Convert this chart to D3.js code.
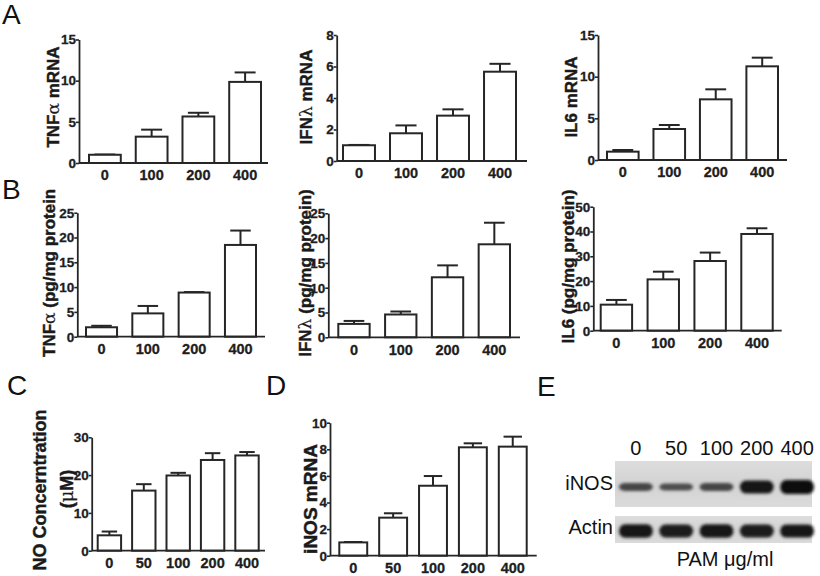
<!DOCTYPE html>
<html><head><meta charset="utf-8">
<script src="https://cdn.jsdelivr.net/npm/d3@7"></script>
<style>
body{margin:0;background:#fff}
svg{display:block}
text{font-family:"Liberation Sans",Arial,Helvetica,sans-serif}
</style>
</head><body>
<svg id="chart" width="820" height="576"></svg>
<script>
// ---------------- data ----------------
const dosesAB = ["0","100","200","400"];
const dosesCD = ["0","50","100","200","400"];

const tnfMrna = [1.0, 3.2, 5.65, 9.85];
const tnfMrnaSem = [0.03, 0.85, 0.45, 1.15];
const ifnMrna = [1.0, 1.76, 2.88, 5.67];
const ifnMrnaSem = [0.02, 0.5, 0.4, 0.5];
const il6Mrna = [1.0, 3.72, 7.28, 11.24];
const il6MrnaSem = [0.2, 0.48, 1.2, 1.04];

const tnfProt = [1.9, 4.7, 8.9, 18.5];
const tnfProtSem = [0.3, 1.5, 0.1, 2.9];
const ifnProt = [2.7, 4.6, 12.1, 18.75];
const ifnProtSem = [0.6, 0.6, 2.4, 4.35];
const il6Prot = [10.5, 20.7, 28.1, 39.0];
const il6ProtSem = [1.9, 3.1, 3.4, 2.3];

const noConc = [4.07, 15.9, 19.9, 24.0, 25.2];
const noConcSem = [1.0, 1.7, 0.7, 1.8, 0.9];
const inosMrna = [1.0, 2.86, 5.26, 8.15, 8.2];
const inosMrnaSem = [0.03, 0.33, 0.73, 0.3, 0.75];

const ticksA1 = [0,5,10,15];
const ticksA2 = [0,2,4,6,8];
const ticksA3 = [0,5,10,15];
const ticksB12 = [0,5,10,15,20,25];
const ticksB3 = [0,10,20,30,40,50];
const ticksC = [0,10,20,30];
const ticksD = [0,2,4,6,8,10];

// western blot (relative band intensity)
const blotLanes = ["0","50","100","200","400"];
const inosBand = [0.56, 0.5, 0.57, 0.93, 1.0];
const actinBand = [0.95, 0.92, 0.95, 0.92, 0.94];

// ---------------- drawing ----------------
const svg = d3.select("#chart");
const INK = "#262626";
const FONT = '"Liberation Sans",Arial,sans-serif';

function heavy(sel, w) {
  sel.attr("stroke", "#1e1e1e").attr("stroke-width", w).attr("paint-order", "stroke");
}

function barPanel(p) {
  const g = svg.append("g");
  const x = d3.scaleBand().domain(p.cats).range([p.b0, p.b1]).paddingInner(p.pi).paddingOuter(0);
  const y = d3.scaleLinear().domain([0, p.max]).range([p.yb, p.yt]);

  // y axis
  const ya = g.append("g").attr("transform", `translate(${p.ax},0)`)
    .call(d3.axisLeft(y).tickValues(p.ticks).tickSize(3).tickSizeOuter(0).tickPadding(0));
  ya.select(".domain").attr("stroke", INK).attr("stroke-width", 1.8);
  ya.selectAll(".tick line").attr("stroke", INK).attr("stroke-width", 1.6);
  ya.selectAll(".tick text").attr("font-size", 13.5).attr("font-weight", "bold")
    .attr("fill", "#1e1e1e").attr("font-family", FONT).call(heavy, 0.3);

  // x axis (labels only, line drawn across full width)
  const xa = g.append("g").attr("transform", `translate(0,${p.yb})`)
    .call(d3.axisBottom(x).tickSize(0).tickPadding(7));
  xa.select(".domain").remove();
  xa.selectAll(".tick text").attr("font-size", 14.5).attr("font-weight", "bold")
    .attr("fill", "#1e1e1e").attr("font-family", FONT).call(heavy, 0.3);

  // bars
  const data = p.cats.map((c, i) => ({c, v: p.vals[i], e: p.sem[i]}));
  const bw = x.bandwidth();
  const cap = bw * 0.66;
  const eb = g.append("g").selectAll("g").data(data).join("g");
  eb.append("line")
    .attr("x1", d => x(d.c) + bw / 2).attr("x2", d => x(d.c) + bw / 2)
    .attr("y1", d => y(d.v)).attr("y2", d => y(d.v + d.e))
    .attr("stroke", INK).attr("stroke-width", 2);
  eb.append("line")
    .attr("x1", d => x(d.c) + bw / 2 - cap / 2).attr("x2", d => x(d.c) + bw / 2 + cap / 2)
    .attr("y1", d => y(d.v + d.e)).attr("y2", d => y(d.v + d.e))
    .attr("stroke", INK).attr("stroke-width", 2);
  g.append("g").selectAll("rect").data(data).join("rect")
    .attr("x", d => x(d.c)).attr("width", bw)
    .attr("y", d => y(d.v)).attr("height", d => y(0) - y(d.v))
    .attr("fill", "#fff").attr("stroke", INK).attr("stroke-width", 2);

  // x axis line
  g.append("line").attr("x1", p.ax).attr("x2", p.axEnd).attr("y1", p.yb).attr("y2", p.yb)
    .attr("stroke", INK).attr("stroke-width", 1.8);

  // axis title(s)
  p.titles.forEach(t => {
    const tx = g.append("text")
      .attr("transform", `translate(${t.x},${t.y}) rotate(-90)`)
      .attr("text-anchor", t.anchor || "middle")
      .attr("font-size", t.size || 17).attr("font-weight", "bold").attr("fill", "#1a1a1a")
      .call(heavy, 0.45);
    t.parts.forEach(pt => {
      const s = tx.append("tspan").text(pt.t);
      if (pt.greek) s.attr("font-family", '"DejaVu Serif",serif').attr("font-weight", "normal").attr("stroke-width", 0.2);
    });
  });
}

barPanel({cats: dosesAB, vals: tnfMrna, sem: tnfMrnaSem, ticks: ticksA1, max: 15,
  ax: 79, axEnd: 268, b0: 89, b1: 261, pi: 0.32, yt: 39.5, yb: 163,
  titles: [{x: 59, y: 97, parts: [{t: "TNF"}, {t: "α", greek: true}, {t: " mRNA"}]}]});
barPanel({cats: dosesAB, vals: ifnMrna, sem: ifnMrnaSem, ticks: ticksA2, max: 8,
  ax: 336.7, axEnd: 527, b0: 343, b1: 516, pi: 0.32, yt: 35, yb: 161,
  titles: [{x: 312, y: 97, parts: [{t: "IFN"}, {t: "λ", greek: true}, {t: " mRNA"}]}]});
barPanel({cats: dosesAB, vals: il6Mrna, sem: il6MrnaSem, ticks: ticksA3, max: 15,
  ax: 598, axEnd: 787, b0: 607, b1: 778, pi: 0.32, yt: 35, yb: 160,
  titles: [{x: 577, y: 97, parts: [{t: "IL6 mRNA"}]}]});

barPanel({cats: dosesAB, vals: tnfProt, sem: tnfProtSem, ticks: ticksB12, max: 25,
  ax: 77.3, axEnd: 265, b0: 86, b1: 256, pi: 0.33, yt: 212.7, yb: 336.7,
  titles: [{x: 55, y: 357, anchor: "start", parts: [{t: "TNF"}, {t: "α", greek: true}, {t: " (pg/mg protein"}]}]});
barPanel({cats: dosesAB, vals: ifnProt, sem: ifnProtSem, ticks: ticksB12, max: 25,
  ax: 328.3, axEnd: 520, b0: 338.3, b1: 510, pi: 0.33, yt: 213.3, yb: 337.3,
  titles: [{x: 311, y: 273, parts: [{t: "IFN"}, {t: "λ", greek: true}, {t: " (pg/mg protein)"}]}]});
barPanel({cats: dosesAB, vals: il6Prot, sem: il6ProtSem, ticks: ticksB3, max: 50,
  ax: 593.3, axEnd: 781.7, b0: 600.7, b1: 772.7, pi: 0.33, yt: 206.7, yb: 330.7,
  titles: [{x: 574, y: 266.5, parts: [{t: "IL6 (pg/mg protein)"}]}]});

barPanel({cats: dosesCD, vals: noConc, sem: noConcSem, ticks: ticksC, max: 30,
  ax: 91.7, axEnd: 265, b0: 97.7, b1: 258.7, pi: 0.32, yt: 437.3, yb: 550.7,
  titles: [{x: 46, y: 490, size: 18, parts: [{t: "NO Concerntration"}]},
           {x: 73, y: 489, size: 18, parts: [{t: "("}, {t: "μ", greek: true}, {t: "M)"}]}]});
barPanel({cats: dosesCD, vals: inosMrna, sem: inosMrnaSem, ticks: ticksD, max: 10,
  ax: 330, axEnd: 536.7, b0: 339.3, b1: 526.7, pi: 0.3, yt: 422.7, yb: 555.7,
  titles: [{x: 317, y: 499, size: 19, parts: [{t: "iNOS mRNA"}]}]});

// panel letters
const letters = [["A", 2, 24], ["B", 2, 199], ["C", 7, 395], ["D", 266, 395], ["E", 537, 396]];
svg.append("g").selectAll("text").data(letters).join("text")
  .attr("x", d => d[1]).attr("y", d => d[2]).text(d => d[0])
  .attr("font-size", 28).attr("fill", "#111");

// ---------------- western blot ----------------
const defs = svg.append("defs");
defs.append("filter").attr("id", "blur").attr("x", "-20%").attr("y", "-60%").attr("width", "140%").attr("height", "220%")
  .append("feGaussianBlur").attr("stdDeviation", 1.6);
const bg = defs.append("linearGradient").attr("id", "blotbg").attr("x1", 0).attr("x2", 0).attr("y1", 0).attr("y2", 1);
bg.append("stop").attr("offset", "0%").attr("stop-color", "#dddddd");
bg.append("stop").attr("offset", "50%").attr("stop-color", "#d3d3d3");
bg.append("stop").attr("offset", "100%").attr("stop-color", "#dbdbdb");

const lane = d3.scaleBand().domain(blotLanes).range([619, 814]).paddingInner(0.16).paddingOuter(0);
const bandH = d3.scaleLinear().domain([0, 1]).range([0, 14]);
const bandC = d3.scaleLinear().domain([0.5, 1]).range(["#4c4c4c", "#101010"]);
const blot = svg.append("g");

function blotRow(vals, y0, y1, cy) {
  blot.append("rect").attr("x", 615).attr("y", y0).attr("width", 197).attr("height", y1 - y0).attr("fill", "url(#blotbg)");
  blot.append("g").attr("filter", "url(#blur)").selectAll("rect").data(blotLanes.map((l, i) => ({l, v: vals[i]})))
    .join("rect")
    .attr("x", d => lane(d.l)).attr("width", lane.bandwidth())
    .attr("y", d => cy - bandH(d.v) / 2).attr("height", d => bandH(d.v))
    .attr("rx", 6).attr("ry", d => bandH(d.v) / 2)
    .attr("fill", d => bandC(d.v));
}
blotRow(inosBand, 461, 507, 487);
blotRow(actinBand, 516, 543, 531);

blot.append("g").selectAll("text").data(blotLanes).join("text")
  .attr("x", d => lane(d) + lane.bandwidth() / 2).attr("y", 455)
  .attr("text-anchor", "middle").attr("font-size", 20).attr("fill", "#111").text(d => d);
blot.append("text").attr("x", 613).attr("y", 490).attr("text-anchor", "end").attr("font-size", 20).attr("fill", "#111").text("iNOS");
blot.append("text").attr("x", 613).attr("y", 534).attr("text-anchor", "end").attr("font-size", 20).attr("fill", "#111").text("Actin");
blot.append("text").attr("x", 725).attr("y", 566).attr("text-anchor", "middle").attr("font-size", 20).attr("fill", "#111").text("PAM μg/ml");
</script>
</body></html>
